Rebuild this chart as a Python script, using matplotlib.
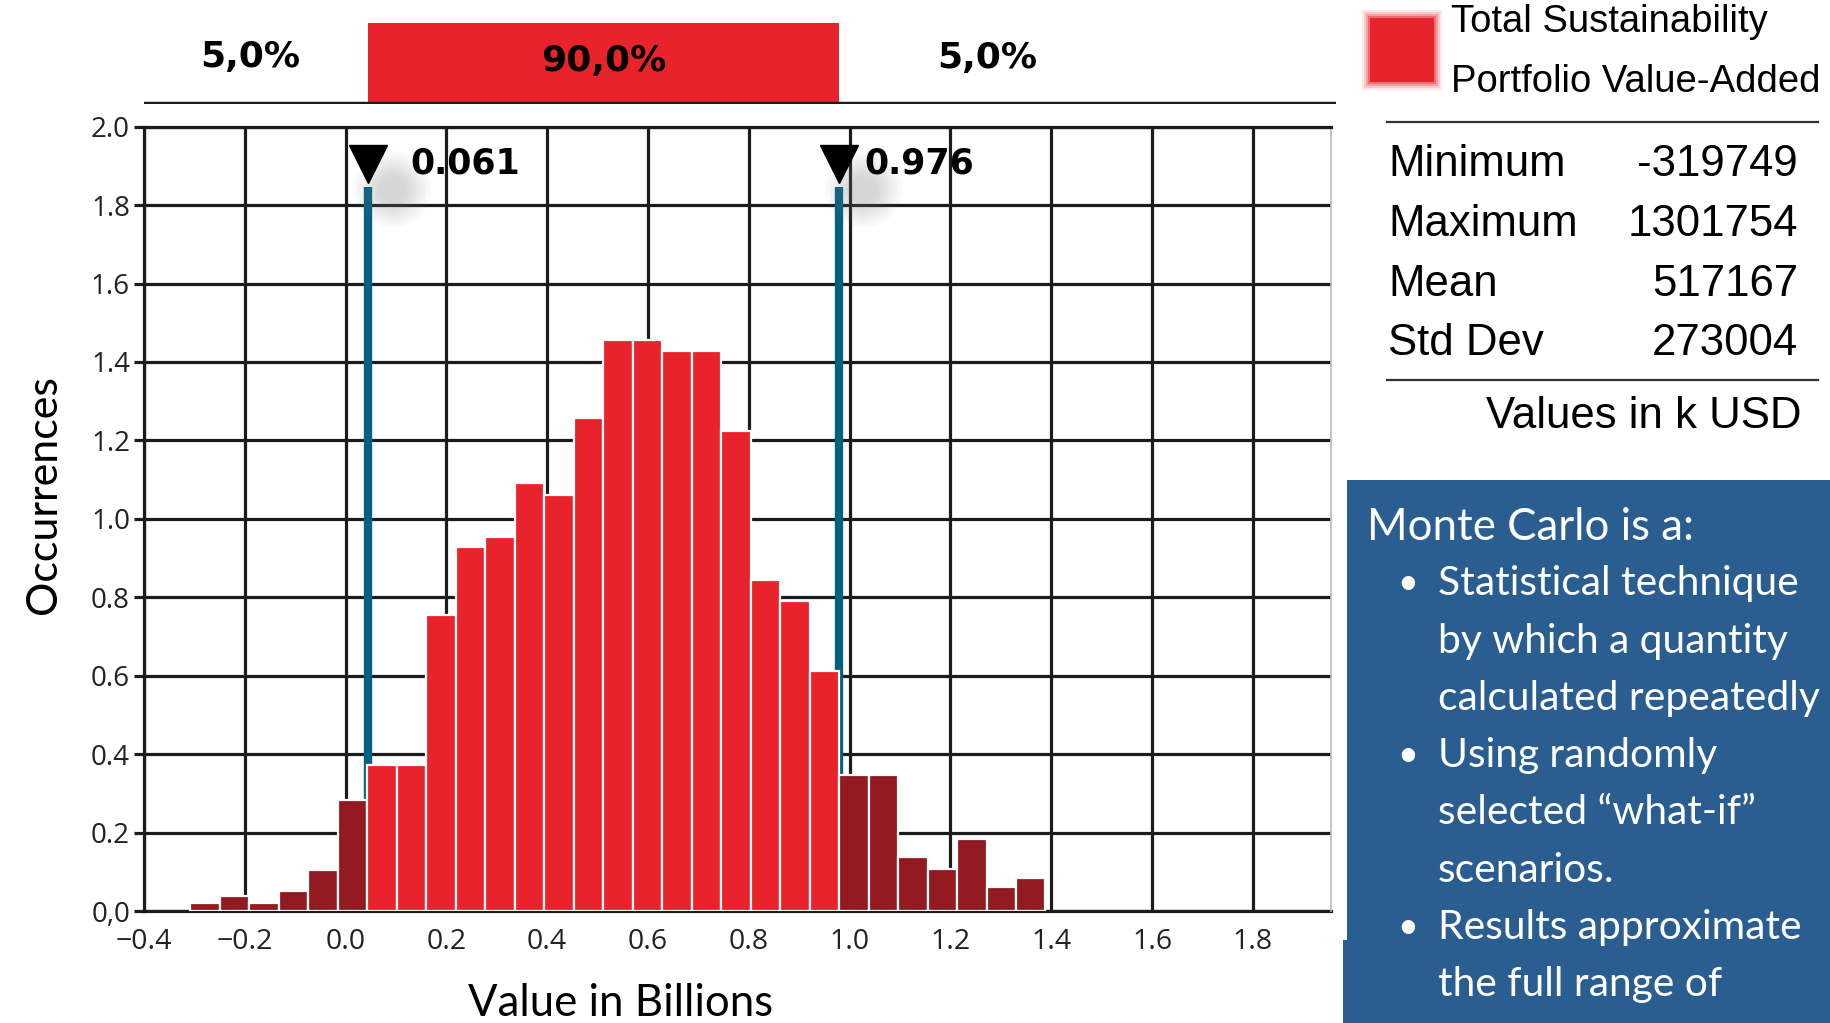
import numpy as np
import matplotlib
matplotlib.use("Agg")
import matplotlib.pyplot as plt
from matplotlib.patches import Rectangle
import matplotlib.transforms as mtransforms

# ---------------- data ----------------
bin_start = -0.308
bin_width = 0.0585
occurrences = [0.021, 0.037, 0.021, 0.052, 0.105, 0.284, 0.373, 0.373, 0.754,
               0.928, 0.954, 1.091, 1.060, 1.258, 1.456, 1.456, 1.429, 1.429,
               1.224, 0.844, 0.790, 0.611, 0.347, 0.347, 0.137, 0.106, 0.184,
               0.062, 0.083]
percentile_pos = [0.045, 0.979]
percentile_labels = ["0.061", "0.976"]
band_labels = ["5,0%", "90,0%", "5,0%"]
x_ticks = [-0.4, -0.2, 0.0, 0.2, 0.4, 0.6, 0.8, 1.0, 1.2, 1.4, 1.6, 1.8]
x_tick_labels = ["\u22120.4", "\u22120.2", "0.0", "0.2", "0.4", "0.6", "0.8",
                 "1.0", "1.2", "1.4", "1.6", "1.8"]
y_ticks = [0.0, 0.2, 0.4, 0.6, 0.8, 1.0, 1.2, 1.4, 1.6, 1.8, 2.0]
y_tick_labels = ["0,0", "0.2", "0.4", "0.6", "0.8", "1.0", "1.2", "1.4",
                 "1.6", "1.8", "2.0"]
legend_lines = ["Total Sustainability", "Portfolio Value-Added"]
stat_names = ["Minimum", "Maximum", "Mean", "Std Dev"]
stat_values = ["-319749", "1301754", "517167", "273004"]
unit_note = "Values in k USD"
mc_title = "Monte Carlo is a:"
mc_bullets = [["Statistical technique", "by which a quantity", "calculated repeatedly"],
              ["Using randomly", "selected \u201cwhat-if\u201d", "scenarios."],
              ["Results approximate", "the full range of"]]

# ---------------- figure ----------------
W, H = 1830, 1023
fig = plt.figure(figsize=(W / 100, H / 100), dpi=100)
fig.patch.set_facecolor("white")

def fx(px):
    return px / W

def fy(py):
    return 1 - py / H

RED = "#E8232B"
DARK = "#931A20"
BLUE_LINE = "#04607F"
GRID = "#1c1c1c"
TICKFONT = "Open Sans"
CAL = "Lato"

x0_px, x1_px = 143.9, 1331
unit_px = 504.1
xmin = -0.4
xmax = xmin + (x1_px - x0_px) / unit_px

ax = fig.add_axes([fx(x0_px), fy(911), (x1_px - x0_px) / W, (911 - 126.7) / H])
ax.set_xlim(xmin, xmax)
ax.set_ylim(0, 2.0)

edges = bin_start + bin_width * np.arange(len(occurrences) + 1)
centers = edges[:-1] + bin_width / 2
colors = [RED if percentile_pos[0] < c < percentile_pos[1] else DARK for c in centers]
ax.bar(edges[:-1], occurrences, width=bin_width, align="edge", color=colors,
       edgecolor="white", linewidth=1.6, zorder=3)

ax.set_axisbelow(True)
ax.grid(True, color=GRID, lw=2.3)
ax.set_xticks(x_ticks)
ax.set_xticklabels(x_tick_labels, fontsize=20.5, family=TICKFONT, color="#222222")
ax.set_yticks(y_ticks)
ax.set_yticklabels(y_tick_labels, fontsize=20, family=TICKFONT, color="#222222")
ax.tick_params(axis="x", length=0, pad=12)
ax.tick_params(axis="y", length=7, width=2.3, color=GRID, pad=3)

for side in ["left", "top", "bottom"]:
    ax.spines[side].set_color(GRID)
    ax.spines[side].set_linewidth(2.3)
ax.spines["bottom"].set_zorder(1)
ax.spines["right"].set_color("#bbbbbb")
ax.spines["right"].set_linewidth(1.2)

# percentile marker lines
ax.vlines(percentile_pos, 0, 1.847, color=BLUE_LINE, lw=6, zorder=2)
marker_y = 1.905
# soft shadow
shadow = mtransforms.offset_copy(ax.transData, fig=fig, x=17, y=-18, units="points")
for s in [3000, 2400, 1900, 1500, 1150, 850, 600, 380]:
    ax.scatter(percentile_pos, [marker_y] * 2, s=s, color="#808080", alpha=0.045,
               lw=0, transform=shadow, zorder=4, clip_on=False)
ax.plot(percentile_pos, [marker_y] * 2, "v", ms=27, color="black", zorder=5,
        clip_on=False)
for p, lab, dx in zip(percentile_pos, percentile_labels, [30, 18.5]):
    ax.annotate(lab, (p, marker_y), xytext=(dx, 0), textcoords="offset points",
                ha="left", va="center", fontsize=25, fontweight="bold",
                family="DejaVu Sans", zorder=6)

ax.set_ylabel("Occurrences", fontsize=31, family=CAL)
ax.yaxis.set_label_coords((44 - x0_px) / (x1_px - x0_px), (911 - 495) / (911 - 126.7))
ax.set_xlabel("Value in Billions", fontsize=31.5, family=CAL)
ax.xaxis.set_label_coords((621 - x0_px) / (x1_px - x0_px), -(1003 - 911) / (911 - 126.7))
ax.xaxis.label.set_va("center")
ax.yaxis.label.set_va("center")

# ---------------- top percentile band ----------------
tx1_px = 1336
tax = fig.add_axes([fx(x0_px), fy(104), (tx1_px - x0_px) / W, (104 - 22.7) / H])
tax.set_xlim(xmin, xmin + (tx1_px - x0_px) / unit_px)
tax.set_ylim(0, 1)
tax.axis("off")
tax.add_patch(Rectangle((percentile_pos[0], 0.03), percentile_pos[1] - percentile_pos[0],
                        0.97, color=RED, lw=0))
tax.axhline(0, color=GRID, lw=3.2)
band_x = [(xmin + percentile_pos[0]) / 2 - 0.012, sum(percentile_pos) / 2, 1.272]
band_y = [0.46, 0.40, 0.445]
for bx, by, lab in zip(band_x, band_y, band_labels):
    tax.text(bx, by, lab, ha="center", va="baseline", fontsize=26,
             fontweight="bold", family="DejaVu Sans")

# ---------------- right legend / stats panel ----------------
for grow, a in [(8, 0.10), (6, 0.15), (4, 0.25), (2, 0.4), (0, 1.0)]:
    fig.patches.append(Rectangle((fx(1370 - grow), fy(82 + grow)), (64 + 2 * grow) / W,
                                 (64 + 2 * grow) / H, transform=fig.transFigure,
                                 color=RED, alpha=a, lw=0))
ARIAL = "Liberation Sans"
fig.text(fx(1451), fy(22), legend_lines[0], fontsize=27.5, family=ARIAL, va="center", ha="left")
fig.text(fx(1451), fy(82), legend_lines[1], fontsize=27.5, family=ARIAL, va="center", ha="left")
fig.lines.append(plt.Line2D([fx(1387), fx(1818)], [fy(122), fy(122)],
                            transform=fig.transFigure, color="#333333", lw=1.6))
for i, (n, v) in enumerate(zip(stat_names, stat_values)):
    yy = 164 + 60 * i
    fig.text(fx(1388), fy(yy), n, fontsize=31.5, family=ARIAL, va="center", ha="left")
    fig.text(fx(1798), fy(yy), v, fontsize=31.5, family=ARIAL, va="center", ha="right")
fig.lines.append(plt.Line2D([fx(1387), fx(1818)], [fy(380), fy(380)],
                            transform=fig.transFigure, color="#333333", lw=1.6))
fig.text(fx(1802), fy(416), unit_note, fontsize=31.5, family=ARIAL, va="center", ha="right")

# ---------------- blue info box ----------------
BOX = "#2A5D90"
fig.patches.append(Rectangle((fx(1347), 0), (W - 1347) / W, fy(480), transform=fig.transFigure,
                             color=BOX, lw=0))
fig.patches.append(Rectangle((fx(1343), 0), 10 / W, fy(940), transform=fig.transFigure,
                             color=BOX, lw=0))
fig.text(fx(1367), fy(527), mc_title, fontsize=31.5, family=CAL, color="white",
         va="center", ha="left")
yy = 584
for group in mc_bullets:
    fig.text(fx(1408), fy(yy), "\u2022", fontsize=26, family=CAL, color="white",
             va="center", ha="center")
    for line in group:
        fig.text(fx(1438), fy(yy), line, fontsize=29.3, family=CAL, color="white",
                 va="center", ha="left")
        yy += 57.2

fig.savefig("out.png", dpi=100)
